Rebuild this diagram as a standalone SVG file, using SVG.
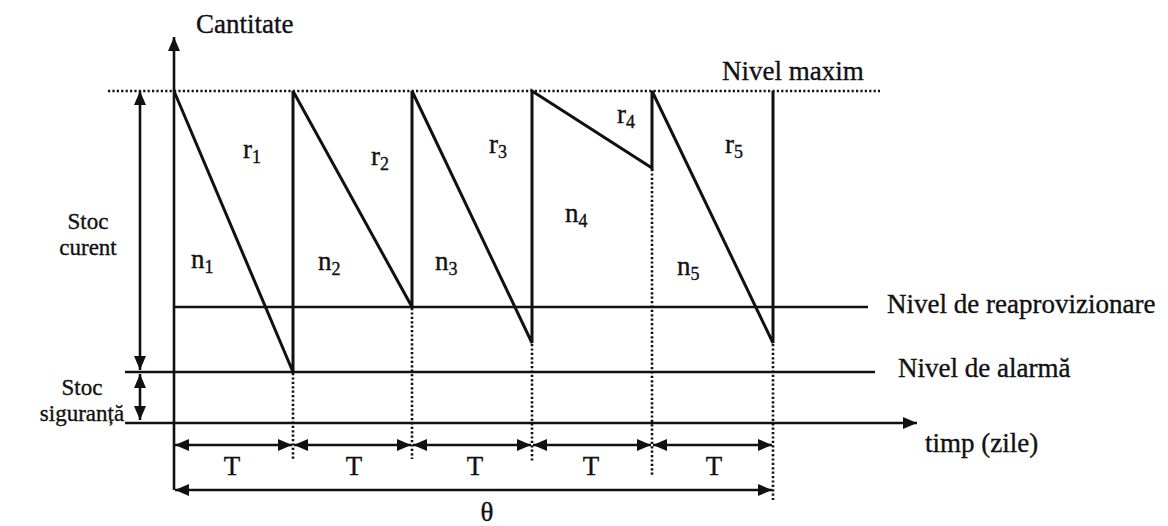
<svg xmlns="http://www.w3.org/2000/svg" width="1168" height="526" viewBox="0 0 1168 526" font-family="'Liberation Serif', 'Times New Roman', serif">
<style>
text{font-family:'Liberation Serif','Times New Roman',serif;fill:#111;stroke:#111;stroke-width:0.35}
.lbl{font-size:27px}
.sm{font-size:23px}
.sub{font-size:18px}
.ln{stroke:#111;stroke-width:3;fill:none;stroke-linejoin:miter}
.thin{stroke:#111;stroke-width:2.6;fill:none}
.dot{stroke:#111;stroke-width:2.6;stroke-dasharray:2.2 2.2;fill:none}
.arr{stroke:#111;stroke-width:2.6;fill:none;marker-end:url(#ah)}
.arr2{stroke:#111;stroke-width:2.6;fill:none;marker-start:url(#ah);marker-end:url(#ah)}
</style>
<defs>
<marker id="ah" markerUnits="userSpaceOnUse" markerWidth="15" markerHeight="12" refX="14" refY="6" orient="auto-start-reverse">
<path d="M0,0 L14,6 L0,12 z" fill="#111"/>
</marker>
</defs>
<rect width="1168" height="526" fill="#fff"/>
<g id="connectors">
<path class="dot" d="M108,91 H880"/>
<path class="arr" d="M174,490 V37"/>
<path class="thin" d="M174,307 H868"/>
<path class="thin" d="M125,372 H875"/>
<path class="arr" d="M125,423 H917"/>
<path class="ln" d="M174,91 L293,372 V91 L412,307 V91 L532,343 V91 L652,168 V91 L773,343 V91"/>
<path class="dot" d="M293,373 V460"/>
<path class="dot" d="M412,308 V459"/>
<path class="dot" d="M532,344 V461"/>
<path class="dot" d="M652,169 V477"/>
<path class="dot" d="M773,344 V500"/>
<path class="arr2" d="M140,91 V370"/>
<path class="arr2" d="M140,374 V420"/>
<path class="arr2" d="M175,445 H292"/>
<path class="arr2" d="M294,445 H411"/>
<path class="arr2" d="M413,445 H531"/>
<path class="arr2" d="M533,445 H651"/>
<path class="arr2" d="M653,445 H772"/>
<path class="arr2" d="M175,490 H772"/>
</g>
<g id="axis-labels">
<text class="lbl" x="196" y="33">Cantitate</text>
<text class="lbl" x="925" y="452">timp (zile)</text>
<text class="lbl" x="487" y="521" text-anchor="middle">θ</text>
</g>
<g id="level-labels">
<text class="lbl" x="722" y="80">Nivel maxim</text>
<text class="lbl" x="887" y="313">Nivel de reaprovizionare</text>
<text class="lbl" x="898" y="377">Nivel de alarmă</text>
</g>
<g id="stock-labels">
<text class="sm" x="88" y="229" text-anchor="middle">Stoc</text>
<text class="sm" x="88" y="255" text-anchor="middle">curent</text>
<text class="sm" x="82" y="395" text-anchor="middle">Stoc</text>
<text class="sm" x="82" y="421" text-anchor="middle">siguranță</text>
</g>
<g id="period-labels">
<text class="lbl" x="232" y="475" text-anchor="middle">T</text>
<text class="lbl" x="354" y="475" text-anchor="middle">T</text>
<text class="lbl" x="475" y="475" text-anchor="middle">T</text>
<text class="lbl" x="591" y="475" text-anchor="middle">T</text>
<text class="lbl" x="714" y="475" text-anchor="middle">T</text>
</g>
<g id="r-labels">
<text class="lbl" x="243" y="158">r<tspan class="sub" dy="5">1</tspan></text>
<text class="lbl" x="371" y="165">r<tspan class="sub" dy="5">2</tspan></text>
<text class="lbl" x="489" y="153">r<tspan class="sub" dy="5">3</tspan></text>
<text class="lbl" x="617" y="123">r<tspan class="sub" dy="5">4</tspan></text>
<text class="lbl" x="725" y="153">r<tspan class="sub" dy="5">5</tspan></text>
</g>
<g id="n-labels">
<text class="lbl" x="191" y="268">n<tspan class="sub" dy="5">1</tspan></text>
<text class="lbl" x="318" y="270">n<tspan class="sub" dy="5">2</tspan></text>
<text class="lbl" x="435" y="270">n<tspan class="sub" dy="5">3</tspan></text>
<text class="lbl" x="565" y="222">n<tspan class="sub" dy="5">4</tspan></text>
<text class="lbl" x="677" y="275">n<tspan class="sub" dy="5">5</tspan></text>
</g>
</svg>
